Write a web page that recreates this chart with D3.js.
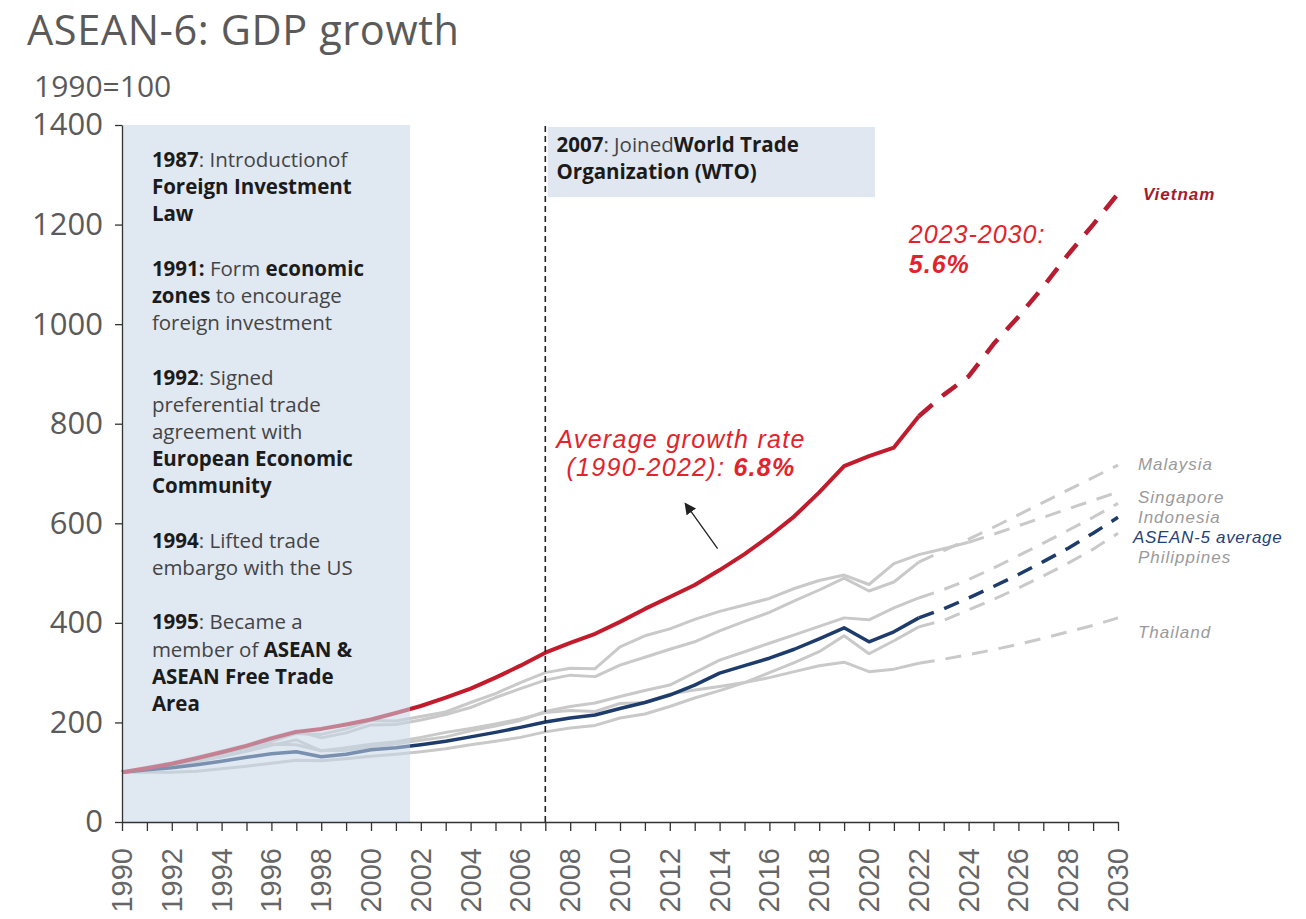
<!DOCTYPE html>
<html>
<head>
<meta charset="utf-8">
<script src="https://cdn.jsdelivr.net/npm/d3@7"></script>
<style>
  html, body { margin: 0; padding: 0; background: #fff; }
  svg { display: block; }
</style>
</head>
<body>
<svg id="chart" width="1306" height="919"></svg>
<script>
// ---------------- DATA ----------------
const histYears = d3.range(1990, 2023);   // 1990..2022
const projYears = d3.range(2022, 2031);   // 2022..2030

const vietnamHist = [100,108,117,128,140,153,168,181,187,196,206,219,233,250,268,290,314,340,360,378,402,428,452,476,506,538,574,614,662,715,735,752,815];
const vietnamProj = [815,858,895,960,1015,1075,1140,1200,1262];

const singaporeYears = d3.range(1990, 2025); // actuals through 2024
const singaporeHist = [100,107,114,127,141,151,162,178,176,187,204,203,212,221,240,258,280,300,309,308,352,374,388,407,423,436,449,469,485,496,477,519,537,549,562];
const singaporeProjYears = d3.range(2024, 2031);
const singaporeProj = [562,578,595,612,629,646,663];

const malaysiaHist = [100,110,119,130,142,155,170,183,169,179,195,196,205,216,230,250,268,285,295,292,315,331,347,362,384,403,421,444,466,490,464,482,522];
const malaysiaProj = [522,545,568,592,617,642,667,692,717];

const indonesiaHist = [100,107,114,122,131,142,154,165,143,144,151,157,164,171,183,193,204,222,232,239,252,264,275,300,325,342,359,376,393,410,406,430,450];
const indonesiaProj = [450,467,487,510,535,560,586,612,640];

const thailandHist = [100,108,117,126,137,148,156,155,143,149,156,161,170,180,188,197,207,220,224,222,238,240,257,265,272,280,290,302,314,321,302,307,319];
const thailandProj = [319,327,336,346,357,369,382,395,410];

const philippinesHist = [100,100,100,102,107,112,118,124,123,127,132,136,141,147,155,162,170,181,189,194,209,217,232,249,264,280,300,320,342,374,338,364,392];
const philippinesProj = [392,405,426,447,470,494,520,548,580];

const aseanHist = [100,105,109,115,122,130,137,141,131,136,145,149,155,162,171,180,190,201,209,215,228,240,255,275,299,314,329,347,368,390,362,382,410];
const aseanProj = [410,428,450,473,497,523,550,580,612];

const yTicks = [0,200,400,600,800,1000,1200,1400];
const xLabelYears = d3.range(1990, 2031, 2);

const seriesLabels = [
  {name: "Vietnam", value: 1262, kind: "vn"},
  {name: "Malaysia", value: 720, kind: "grey"},
  {name: "Singapore", value: 652, kind: "grey"},
  {name: "Indonesia", value: 612, kind: "grey"},
  {name: "ASEAN-5 average", value: 572, kind: "avg"},
  {name: "Philippines", value: 533, kind: "grey"},
  {name: "Thailand", value: 381, kind: "grey"}
];

const leftNotes = [
  [["1987", true], [": Introductionof", false]],
  [["Foreign Investment", true]],
  [["Law", true]],
  null,
  [["1991: ", true], ["Form ", false], ["economic", true]],
  [["zones", true], [" to encourage", false]],
  [["foreign investment", false]],
  null,
  [["1992", true], [": Signed", false]],
  [["preferential trade", false]],
  [["agreement with", false]],
  [["European Economic", true]],
  [["Community", true]],
  null,
  [["1994", true], [": Lifted trade", false]],
  [["embargo with the US", false]],
  null,
  [["1995", true], [": Became a", false]],
  [["member of ", false], ["ASEAN &", true]],
  [["ASEAN Free Trade", true]],
  [["Area", true]]
];
const wtoNotes = [
  [["2007", true], [": Joined", false], ["World Trade", true]],
  [["Organization (WTO)", true]]
];

// ---------------- SETUP ----------------
const svg = d3.select("#chart");
const x = d3.scaleLinear().domain([1990, 2030]).range([122, 1118]);
const y = d3.scaleLinear().domain([0, 1400]).range([822, 125]);

const GREY = "#c9c9c9", NAVY = "#1d3c6c", RED = "#c11b2c";
const SANS = "'Open Sans', 'Noto Sans', sans-serif";
const ARIAL = "'Liberation Sans', Arial, sans-serif";

// Title
svg.append("text").attr("x", 27).attr("y", 45)
  .attr("font-family", SANS).attr("font-size", 41.5).attr("fill", "#5a5a5a")
  .attr("letter-spacing", 0.6)
  .text("ASEAN-6: GDP growth");
svg.append("text").attr("x", 34).attr("y", 97)
  .attr("font-family", SANS).attr("font-size", 30).attr("fill", "#5a5a5a")
  .text("1990=100");

// WTO box
svg.append("rect")
  .attr("x", x(2007.1)).attr("y", y(1396))
  .attr("width", x(2020.24) - x(2007.1)).attr("height", y(1255) - y(1396))
  .attr("fill", "#e0e7f0");

// Lines
const line = d3.line().x(d => x(d[0])).y(d => y(d[1]));
function draw(years, vals, color, width, dash) {
  svg.append("path")
    .datum(years.map((yr, i) => [yr, vals[i]]))
    .attr("d", line)
    .attr("fill", "none")
    .attr("stroke", color)
    .attr("stroke-width", width)
    .attr("stroke-linejoin", "round")
    .attr("stroke-dasharray", dash || null);
}
const DASH = "16,11";
draw(histYears, thailandHist, GREY, 3);
draw(histYears, philippinesHist, GREY, 3);
draw(histYears, indonesiaHist, GREY, 3);
draw(histYears, malaysiaHist, GREY, 3);
draw(singaporeYears, singaporeHist, GREY, 3);
draw(projYears, thailandProj, GREY, 3, DASH);
draw(projYears, philippinesProj, GREY, 3, DASH);
draw(projYears, indonesiaProj, GREY, 3, DASH);
draw(projYears, malaysiaProj, GREY, 3, DASH);
draw(singaporeProjYears, singaporeProj, GREY, 3, DASH);
draw(histYears, aseanHist, NAVY, 3.5);
draw(projYears, aseanProj, NAVY, 3.5, DASH);
draw(histYears, vietnamHist, RED, 4);
draw(projYears, vietnamProj, "#b81c30", 4.5, "18,13");

// Shaded 1987-2001 box (over lines, translucent)
svg.append("rect")
  .attr("x", x(1990)).attr("y", y(1400))
  .attr("width", x(2001.57) - x(1990)).attr("height", y(0) - y(1400))
  .attr("fill", "#c6d5e8").attr("fill-opacity", 0.55);

// WTO dashed vertical line
svg.append("line")
  .attr("x1", x(2007)).attr("x2", x(2007))
  .attr("y1", y(1398)).attr("y2", y(0))
  .attr("stroke", "#222").attr("stroke-width", 1.6)
  .attr("stroke-dasharray", "6,4");

// Axes
const yAxis = d3.axisLeft(y).tickValues(yTicks).tickSize(7).tickPadding(12)
  .tickSizeOuter(0).tickFormat(d3.format("d"));
const gy = svg.append("g").attr("transform", `translate(${x(1990)},0)`).call(yAxis);
gy.select(".domain").attr("stroke", "#333").attr("stroke-width", 1.3);
gy.selectAll(".tick line").attr("stroke", "#333").attr("stroke-width", 1.3);
gy.selectAll(".tick text").attr("font-family", SANS).attr("font-size", 31).attr("fill", "#5a5a5a");

const xAxis = d3.axisBottom(x).tickValues(d3.range(1990, 2031)).tickSize(9).tickSizeOuter(0).tickFormat("");
const gx = svg.append("g").attr("transform", `translate(0,${y(0)})`).call(xAxis);
gx.select(".domain").attr("stroke", "#333").attr("stroke-width", 1.3);
gx.selectAll(".tick line").attr("stroke", "#333").attr("stroke-width", 1.3);

svg.append("g").selectAll("text").data(xLabelYears).join("text")
  .attr("transform", d => `translate(${x(d) + 10},${y(0) + 26}) rotate(-90)`)
  .attr("text-anchor", "end")
  .attr("font-family", ARIAL).attr("font-size", 29).attr("fill", "#666")
  .text(d => d);

// Annotation text blocks
function notes(lines, x0, y0, lh, size) {
  const g = svg.append("g");
  lines.forEach((ln, i) => {
    if (!ln) return;
    const t = g.append("text").attr("x", x0).attr("y", y0 + i * lh)
      .attr("font-family", SANS).attr("font-size", size);
    ln.forEach(([s, b]) => {
      t.append("tspan").attr("font-weight", b ? 700 : 400)
        .attr("fill", b ? "#1b1b1b" : "#444").text(s);
    });
  });
}
notes(leftNotes, x(1991.2), 167, 27.2, 20.5);
notes(wtoNotes, x(2007.45), 152, 27, 20.5);

// Red annotations
function redText(xYear, yVal, anchor, size, spacing) {
  return svg.append("text").attr("x", x(xYear)).attr("y", y(yVal))
    .attr("font-family", ARIAL).attr("font-style", "italic")
    .attr("font-size", size).attr("letter-spacing", spacing)
    .attr("fill", "#e3232b").attr("text-anchor", anchor);
}
redText(2012.45, 752, "middle", 25, 1.3).text("Average growth rate");
const l2 = redText(2012.45, 694, "middle", 25, 1.3);
l2.append("tspan").text("(1990-2022): ");
l2.append("tspan").attr("font-weight", 700).text("6.8%");

redText(2021.6, 1162, "start", 25, 1).text("2023-2030:");
redText(2021.6, 1102, "start", 25, 1).attr("font-weight", 700).text("5.6%");

// Arrow
svg.append("defs").append("marker").attr("id", "ah")
  .attr("viewBox", "0 0 10 10").attr("refX", 9).attr("refY", 5)
  .attr("markerWidth", 9).attr("markerHeight", 9).attr("orient", "auto")
  .append("path").attr("d", "M0,0 L10,5 L0,10 z").attr("fill", "#222");
svg.append("line")
  .attr("x1", x(2013.92)).attr("y1", y(549))
  .attr("x2", x(2012.62)).attr("y2", y(640))
  .attr("stroke", "#222").attr("stroke-width", 1.3)
  .attr("marker-end", "url(#ah)");

// Series labels
svg.append("g").selectAll("text").data(seriesLabels).join("text")
  .attr("x", d => d.kind === "vn" ? x(2031.0) : (d.kind === "avg" ? x(2030.6) : x(2030.8)))
  .attr("y", d => y(d.value) + 6)
  .attr("font-family", ARIAL).attr("font-style", "italic")
  .attr("font-size", 17)
  .attr("letter-spacing", d => d.kind === "avg" ? 0.7 : 1)
  .attr("font-weight", d => d.kind === "vn" ? 700 : 400)
  .attr("fill", d => d.kind === "vn" ? "#a51a2c" : (d.kind === "avg" ? "#23427a" : "#9a9a9a"))
  .text(d => d.name);
</script>
</body>
</html>
